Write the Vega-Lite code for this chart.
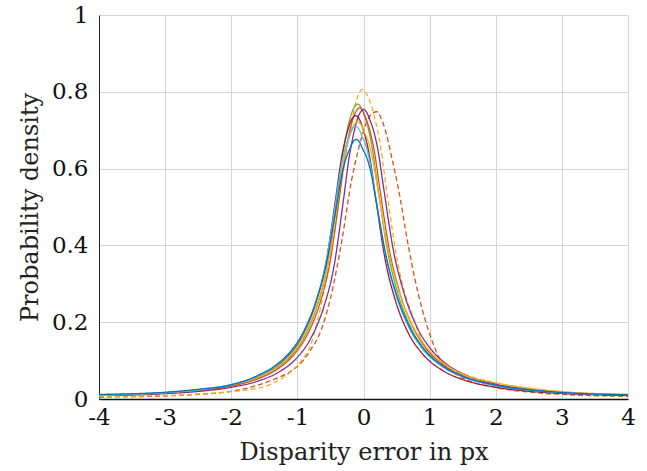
{
  "$schema": "https://vega.github.io/schema/vega-lite/v6.json",
  "width": 529,
  "height": 384,
  "autosize": {"type": "none"},
  "padding": {"left": 99, "top": 15, "right": 19, "bottom": 72},
  "background": "white",
  "config": {"view": {"stroke": null}, "font": "DejaVu Serif, serif", "axis": {"labelFont": "DejaVu Serif, serif", "titleFont": "DejaVu Serif, serif"}},
  "data": {"values": [
    {"s":"dashed orange","x":-4,"y":0.005},{"s":"dashed orange","x":-3,"y":0.008},{"s":"dashed orange","x":-2.5,"y":0.012},{"s":"dashed orange","x":-2,"y":0.02},{"s":"dashed orange","x":-1.6,"y":0.036},{"s":"dashed orange","x":-1.3,"y":0.055},{"s":"dashed orange","x":-1.1,"y":0.072},{"s":"dashed orange","x":-0.93,"y":0.097},{"s":"dashed orange","x":-0.8,"y":0.128},{"s":"dashed orange","x":-0.66,"y":0.171},{"s":"dashed orange","x":-0.5,"y":0.262},{"s":"dashed orange","x":-0.33,"y":0.41},{"s":"dashed orange","x":-0.18,"y":0.57},{"s":"dashed orange","x":-0.08,"y":0.648},{"s":"dashed orange","x":0.05,"y":0.722},{"s":"dashed orange","x":0.12,"y":0.742},{"s":"dashed orange","x":0.2,"y":0.748},{"s":"dashed orange","x":0.27,"y":0.73},{"s":"dashed orange","x":0.33,"y":0.70},{"s":"dashed orange","x":0.43,"y":0.627},{"s":"dashed orange","x":0.52,"y":0.555},{"s":"dashed orange","x":0.68,"y":0.397},{"s":"dashed orange","x":0.78,"y":0.31},{"s":"dashed orange","x":0.98,"y":0.18},{"s":"dashed orange","x":1.18,"y":0.097},{"s":"dashed orange","x":1.5,"y":0.055},{"s":"dashed orange","x":2,"y":0.03},{"s":"dashed orange","x":2.5,"y":0.018},{"s":"dashed orange","x":3,"y":0.012},{"s":"dashed orange","x":4,"y":0.007},
    {"s":"dashed yellow","x":-4,"y":0.006},{"s":"dashed yellow","x":-3,"y":0.009},{"s":"dashed yellow","x":-2.5,"y":0.013},{"s":"dashed yellow","x":-2,"y":0.019},{"s":"dashed yellow","x":-1.8,"y":0.023},{"s":"dashed yellow","x":-1.5,"y":0.032},{"s":"dashed yellow","x":-1.3,"y":0.047},{"s":"dashed yellow","x":-1.1,"y":0.071},{"s":"dashed yellow","x":-0.95,"y":0.097},{"s":"dashed yellow","x":-0.8,"y":0.14},{"s":"dashed yellow","x":-0.7,"y":0.2},{"s":"dashed yellow","x":-0.6,"y":0.28},{"s":"dashed yellow","x":-0.5,"y":0.37},{"s":"dashed yellow","x":-0.4,"y":0.48},{"s":"dashed yellow","x":-0.3,"y":0.6},{"s":"dashed yellow","x":-0.2,"y":0.7},{"s":"dashed yellow","x":-0.12,"y":0.77},{"s":"dashed yellow","x":-0.07,"y":0.795},{"s":"dashed yellow","x":-0.02,"y":0.806},{"s":"dashed yellow","x":0.02,"y":0.802},{"s":"dashed yellow","x":0.06,"y":0.79},{"s":"dashed yellow","x":0.125,"y":0.761},{"s":"dashed yellow","x":0.175,"y":0.727},{"s":"dashed yellow","x":0.25,"y":0.666},{"s":"dashed yellow","x":0.3,"y":0.605},{"s":"dashed yellow","x":0.34,"y":0.555},{"s":"dashed yellow","x":0.48,"y":0.392},{"s":"dashed yellow","x":0.55,"y":0.327},{"s":"dashed yellow","x":0.65,"y":0.262},{"s":"dashed yellow","x":0.78,"y":0.2},{"s":"dashed yellow","x":0.88,"y":0.15},{"s":"dashed yellow","x":1.0,"y":0.118},{"s":"dashed yellow","x":1.2,"y":0.09},{"s":"dashed yellow","x":1.5,"y":0.066},{"s":"dashed yellow","x":2,"y":0.042},{"s":"dashed yellow","x":2.5,"y":0.028},{"s":"dashed yellow","x":3,"y":0.019},{"s":"dashed yellow","x":4,"y":0.012},
    {"s":"green","x":-4,"y":0.010},{"s":"green","x":-3,"y":0.0153},{"s":"green","x":-2.5,"y":0.0221},{"s":"green","x":-2,"y":0.0346},{"s":"green","x":-1.6,"y":0.0538},{"s":"green","x":-1.3,"y":0.0807},{"s":"green","x":-1.09,"y":0.1126},{"s":"green","x":-0.89,"y":0.1625},{"s":"green","x":-0.69,"y":0.248},{"s":"green","x":-0.54,"y":0.352},{"s":"green","x":-0.39,"y":0.537},{"s":"green","x":-0.31,"y":0.641},{"s":"green","x":-0.24,"y":0.705},{"s":"green","x":-0.19,"y":0.739},{"s":"green","x":-0.14,"y":0.760},{"s":"green","x":-0.09,"y":0.768},{"s":"green","x":-0.04,"y":0.760},{"s":"green","x":0.01,"y":0.739},{"s":"green","x":0.06,"y":0.712},{"s":"green","x":0.13,"y":0.655},{"s":"green","x":0.21,"y":0.560},{"s":"green","x":0.36,"y":0.389},{"s":"green","x":0.51,"y":0.281},{"s":"green","x":0.71,"y":0.188},{"s":"green","x":0.91,"y":0.132},{"s":"green","x":1.2,"y":0.0853},{"s":"green","x":1.5,"y":0.0584},{"s":"green","x":2,"y":0.0349},{"s":"green","x":2.5,"y":0.0231},{"s":"green","x":3,"y":0.0164},{"s":"green","x":4,"y":0.010},
    {"s":"orange","x":-4,"y":0.0095},{"s":"orange","x":-3,"y":0.0152},{"s":"orange","x":-2.5,"y":0.0218},{"s":"orange","x":-2,"y":0.0339},{"s":"orange","x":-1.6,"y":0.0525},{"s":"orange","x":-1.3,"y":0.078},{"s":"orange","x":-1.06,"y":0.1137},{"s":"orange","x":-0.86,"y":0.1638},{"s":"orange","x":-0.66,"y":0.249},{"s":"orange","x":-0.51,"y":0.353},{"s":"orange","x":-0.36,"y":0.531},{"s":"orange","x":-0.28,"y":0.633},{"s":"orange","x":-0.21,"y":0.696},{"s":"orange","x":-0.16,"y":0.729},{"s":"orange","x":-0.11,"y":0.750},{"s":"orange","x":-0.06,"y":0.758},{"s":"orange","x":-0.01,"y":0.750},{"s":"orange","x":0.04,"y":0.729},{"s":"orange","x":0.09,"y":0.703},{"s":"orange","x":0.16,"y":0.649},{"s":"orange","x":0.24,"y":0.556},{"s":"orange","x":0.39,"y":0.389},{"s":"orange","x":0.54,"y":0.282},{"s":"orange","x":0.74,"y":0.1896},{"s":"orange","x":0.94,"y":0.1333},{"s":"orange","x":1.2,"y":0.0898},{"s":"orange","x":1.5,"y":0.0611},{"s":"orange","x":2,"y":0.0363},{"s":"orange","x":2.5,"y":0.0239},{"s":"orange","x":3,"y":0.0169},{"s":"orange","x":4,"y":0.010},
    {"s":"purple","x":-4,"y":0.009},{"s":"purple","x":-3,"y":0.0138},{"s":"purple","x":-2.5,"y":0.0197},{"s":"purple","x":-2,"y":0.0304},{"s":"purple","x":-1.6,"y":0.0465},{"s":"purple","x":-1.3,"y":0.0682},{"s":"purple","x":-1.0,"y":0.1085},{"s":"purple","x":-0.8,"y":0.157},{"s":"purple","x":-0.6,"y":0.240},{"s":"purple","x":-0.45,"y":0.342},{"s":"purple","x":-0.3,"y":0.522},{"s":"purple","x":-0.22,"y":0.626},{"s":"purple","x":-0.15,"y":0.690},{"s":"purple","x":-0.1,"y":0.725},{"s":"purple","x":-0.05,"y":0.746},{"s":"purple","x":0,"y":0.754},{"s":"purple","x":0.05,"y":0.746},{"s":"purple","x":0.1,"y":0.725},{"s":"purple","x":0.15,"y":0.700},{"s":"purple","x":0.22,"y":0.647},{"s":"purple","x":0.3,"y":0.555},{"s":"purple","x":0.45,"y":0.389},{"s":"purple","x":0.6,"y":0.283},{"s":"purple","x":0.8,"y":0.190},{"s":"purple","x":1.0,"y":0.134},{"s":"purple","x":1.2,"y":0.0984},{"s":"purple","x":1.5,"y":0.0661},{"s":"purple","x":2,"y":0.0387},{"s":"purple","x":2.5,"y":0.0252},{"s":"purple","x":3,"y":0.0177},{"s":"purple","x":4,"y":0.010},
    {"s":"darkred","x":-4,"y":0.010},{"s":"darkred","x":-3,"y":0.0162},{"s":"darkred","x":-2.5,"y":0.0234},{"s":"darkred","x":-2,"y":0.0368},{"s":"darkred","x":-1.6,"y":0.0577},{"s":"darkred","x":-1.3,"y":0.0869},{"s":"darkred","x":-1.12,"y":0.1156},{"s":"darkred","x":-0.92,"y":0.166},{"s":"darkred","x":-0.72,"y":0.251},{"s":"darkred","x":-0.57,"y":0.353},{"s":"darkred","x":-0.42,"y":0.523},{"s":"darkred","x":-0.34,"y":0.620},{"s":"darkred","x":-0.27,"y":0.679},{"s":"darkred","x":-0.22,"y":0.710},{"s":"darkred","x":-0.17,"y":0.731},{"s":"darkred","x":-0.12,"y":0.738},{"s":"darkred","x":-0.07,"y":0.731},{"s":"darkred","x":-0.02,"y":0.710},{"s":"darkred","x":0.03,"y":0.681},{"s":"darkred","x":0.10,"y":0.624},{"s":"darkred","x":0.18,"y":0.528},{"s":"darkred","x":0.33,"y":0.361},{"s":"darkred","x":0.48,"y":0.258},{"s":"darkred","x":0.68,"y":0.171},{"s":"darkred","x":0.88,"y":0.120},{"s":"darkred","x":1.2,"y":0.0738},{"s":"darkred","x":1.5,"y":0.0507},{"s":"darkred","x":2,"y":0.0305},{"s":"darkred","x":2.5,"y":0.0202},{"s":"darkred","x":3,"y":0.0144},{"s":"darkred","x":4,"y":0.009},
    {"s":"yellow","x":-4,"y":0.010},{"s":"yellow","x":-3,"y":0.0161},{"s":"yellow","x":-2.5,"y":0.0233},{"s":"yellow","x":-2,"y":0.0364},{"s":"yellow","x":-1.6,"y":0.0565},{"s":"yellow","x":-1.3,"y":0.0843},{"s":"yellow","x":-1.09,"y":0.1171},{"s":"yellow","x":-0.89,"y":0.1676},{"s":"yellow","x":-0.69,"y":0.252},{"s":"yellow","x":-0.54,"y":0.353},{"s":"yellow","x":-0.39,"y":0.517},{"s":"yellow","x":-0.31,"y":0.610},{"s":"yellow","x":-0.24,"y":0.666},{"s":"yellow","x":-0.19,"y":0.695},{"s":"yellow","x":-0.14,"y":0.715},{"s":"yellow","x":-0.09,"y":0.722},{"s":"yellow","x":-0.04,"y":0.715},{"s":"yellow","x":0.01,"y":0.695},{"s":"yellow","x":0.06,"y":0.677},{"s":"yellow","x":0.13,"y":0.632},{"s":"yellow","x":0.21,"y":0.552},{"s":"yellow","x":0.36,"y":0.399},{"s":"yellow","x":0.51,"y":0.296},{"s":"yellow","x":0.71,"y":0.203},{"s":"yellow","x":0.91,"y":0.1444},{"s":"yellow","x":1.2,"y":0.0943},{"s":"yellow","x":1.5,"y":0.065},{"s":"yellow","x":2,"y":0.042},{"s":"yellow","x":2.5,"y":0.028},{"s":"yellow","x":3,"y":0.019},{"s":"yellow","x":4,"y":0.012},
    {"s":"cyan","x":-4,"y":0.011},{"s":"cyan","x":-3,"y":0.0168},{"s":"cyan","x":-2.5,"y":0.0243},{"s":"cyan","x":-2,"y":0.0382},{"s":"cyan","x":-1.6,"y":0.0596},{"s":"cyan","x":-1.3,"y":0.0894},{"s":"cyan","x":-1.12,"y":0.1187},{"s":"cyan","x":-0.92,"y":0.1695},{"s":"cyan","x":-0.72,"y":0.254},{"s":"cyan","x":-0.57,"y":0.353},{"s":"cyan","x":-0.42,"y":0.513},{"s":"cyan","x":-0.34,"y":0.603},{"s":"cyan","x":-0.27,"y":0.657},{"s":"cyan","x":-0.22,"y":0.683},{"s":"cyan","x":-0.17,"y":0.703},{"s":"cyan","x":-0.12,"y":0.710},{"s":"cyan","x":-0.07,"y":0.703},{"s":"cyan","x":-0.02,"y":0.683},{"s":"cyan","x":0.03,"y":0.662},{"s":"cyan","x":0.10,"y":0.614},{"s":"cyan","x":0.18,"y":0.531},{"s":"cyan","x":0.33,"y":0.378},{"s":"cyan","x":0.48,"y":0.277},{"s":"cyan","x":0.68,"y":0.188},{"s":"cyan","x":0.88,"y":0.133},{"s":"cyan","x":1.2,"y":0.0829},{"s":"cyan","x":1.5,"y":0.0573},{"s":"cyan","x":2,"y":0.0347},{"s":"cyan","x":2.5,"y":0.023},{"s":"cyan","x":3,"y":0.0164},{"s":"cyan","x":4,"y":0.011},
    {"s":"blue","x":-4,"y":0.012},{"s":"blue","x":-3,"y":0.0175},{"s":"blue","x":-2.5,"y":0.0253},{"s":"blue","x":-2,"y":0.037},{"s":"blue","x":-1.6,"y":0.0614},{"s":"blue","x":-1.3,"y":0.0916},{"s":"blue","x":-1.11,"y":0.1227},{"s":"blue","x":-0.91,"y":0.174},{"s":"blue","x":-0.71,"y":0.258},{"s":"blue","x":-0.56,"y":0.353},{"s":"blue","x":-0.41,"y":0.501},{"s":"blue","x":-0.33,"y":0.582},{"s":"blue","x":-0.26,"y":0.629},{"s":"blue","x":-0.21,"y":0.650},{"s":"blue","x":-0.16,"y":0.669},{"s":"blue","x":-0.11,"y":0.676},{"s":"blue","x":-0.06,"y":0.669},{"s":"blue","x":-0.01,"y":0.650},{"s":"blue","x":0.04,"y":0.633},{"s":"blue","x":0.11,"y":0.592},{"s":"blue","x":0.19,"y":0.516},{"s":"blue","x":0.34,"y":0.3735},{"s":"blue","x":0.49,"y":0.277},{"s":"blue","x":0.69,"y":0.190},{"s":"blue","x":0.89,"y":0.135},{"s":"blue","x":1.2,"y":0.086},{"s":"blue","x":1.5,"y":0.0594},{"s":"blue","x":2,"y":0.036},{"s":"blue","x":2.5,"y":0.024},{"s":"blue","x":3,"y":0.017},{"s":"blue","x":4,"y":0.011}
  ]},
  "mark": {"type": "line", "interpolate": "monotone", "strokeWidth": 1.3, "clip": true},
  "encoding": {
    "x": {
      "field": "x", "type": "quantitative",
      "scale": {"domain": [-4, 4], "nice": false, "zero": false},
      "axis": {
        "values": [-4, -3, -2, -1, 0, 1, 2, 3, 4],
        "labelExpr": "datum.value < 0 ? '-' + abs(datum.value) : '' + datum.value",
        "title": "Disparity error in px",
        "grid": true, "gridColor": "#d4d4d4", "gridWidth": 1,
        "domainColor": "#111111", "domainWidth": 1.5,
        "tickSize": 0,
        "labelFont": "DejaVu Serif, serif", "titleFont": "DejaVu Serif, serif",
        "labelFontSize": 23, "labelColor": "#111111", "labelPadding": 7,
        "labelFlush": false, "labelOverlap": false, "labelBound": false,
        "titleFontSize": 24, "titleFontWeight": "normal", "titleColor": "#222222", "titlePadding": 11
      }
    },
    "y": {
      "field": "y", "type": "quantitative",
      "scale": {"domain": [0, 1], "nice": false},
      "axis": {
        "values": [0, 0.2, 0.4, 0.6, 0.8, 1],
        "labelExpr": "'' + datum.value",
        "title": "Probability density",
        "grid": true, "gridColor": "#d4d4d4", "gridWidth": 1,
        "domainColor": "#222222", "domainWidth": 1,
        "tickSize": 0,
        "labelFont": "DejaVu Serif, serif", "titleFont": "DejaVu Serif, serif",
        "labelFontSize": 23, "labelColor": "#111111", "labelPadding": 11,
        "labelFlush": false, "labelOverlap": false, "labelBound": false,
        "titleFontSize": 24, "titleFontWeight": "normal", "titleColor": "#222222", "titlePadding": 9
      }
    },
    "color": {
      "field": "s", "type": "nominal", "legend": null,
      "scale": {
        "domain": ["dashed orange", "dashed yellow", "green", "orange", "purple", "darkred", "yellow", "cyan", "blue"],
        "range": ["#D95319", "#EDB120", "#77AC30", "#D95319", "#7E2F8E", "#A2142F", "#EDB120", "#4DBEEE", "#0072BD"]
      }
    },
    "strokeDash": {
      "field": "s", "type": "nominal", "legend": null,
      "scale": {
        "domain": ["dashed orange", "dashed yellow", "green", "orange", "purple", "darkred", "yellow", "cyan", "blue"],
        "range": [[5, 3], [5, 3], [1, 0], [1, 0], [1, 0], [1, 0], [1, 0], [1, 0], [1, 0]]
      }
    }
  }
}
